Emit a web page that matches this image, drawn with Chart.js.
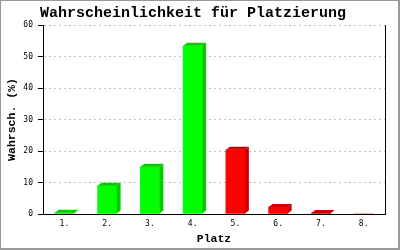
<!DOCTYPE html>
<html>
<head>
<meta charset="utf-8">
<script src="https://cdn.jsdelivr.net/npm/chart.js@4/dist/chart.umd.min.js"></script>
<style>
  html, body { margin: 0; padding: 0; background: #fff; }
  canvas { display: block; }
</style>
</head>
<body>
<canvas id="c" width="400" height="250"></canvas>
<script>
// ---- data ----
const TITLE = 'Wahrscheinlichkeit für Platzierung';
const X_TITLE = 'Platz';
const Y_TITLE = 'Wahrsch. (%)';
const categories = ['1.', '2.', '3.', '4.', '5.', '6.', '7.', '8.'];
const probabilities = [0.4, 9.0, 15.0, 53.4, 20.4, 2.2, 0.3, 0];
const yTicks = [0, 10, 20, 30, 40, 50, 60];

// ---- styles ----
const GREEN_COUNT = 4;
const FRONT = ['#00ff00', '#ff0000'];
const DARK = ['#00cc00', '#cc0000'];
const DX = 4, DY = 3;
const colorIdx = i => (i < GREEN_COUNT ? 0 : 1);

const bar3d = {
  id: 'bar3d',
  beforeDraw(chart) {
    const ctx = chart.ctx;
    ctx.save();
    ctx.fillStyle = '#fff';
    ctx.fillRect(0, 0, chart.width, chart.height);
    ctx.restore();
  },
  afterDatasetsDraw(chart) {
    const ctx = chart.ctx;
    const meta = chart.getDatasetMeta(0);
    const ds = chart.data.datasets[0];
    ctx.save();
    meta.data.forEach((el, i) => {
      if (!ds.data[i]) return;
      const p = el.getProps(['x', 'y', 'base', 'width'], true);
      const x0 = p.x - p.width / 2, x1 = p.x + p.width / 2;
      ctx.fillStyle = DARK[colorIdx(i)];
      ctx.beginPath();
      ctx.moveTo(x0, p.y); ctx.lineTo(x0 + DX, p.y - DY);
      ctx.lineTo(x1 + DX, p.y - DY); ctx.lineTo(x1, p.y);
      ctx.closePath(); ctx.fill();
      ctx.beginPath();
      ctx.moveTo(x1, p.y); ctx.lineTo(x1 + DX, p.y - DY);
      ctx.lineTo(x1 + DX, p.base - DY); ctx.lineTo(x1, p.base);
      ctx.closePath(); ctx.fill();
    });
    ctx.restore();
  },
  afterDraw(chart) {
    const ctx = chart.ctx;
    const a = chart.chartArea;
    ctx.save();
    ctx.strokeStyle = '#000';
    ctx.lineWidth = 1;
    ctx.beginPath();
    const xr = Math.round(a.right) + 0.5;
    ctx.moveTo(xr, a.top); ctx.lineTo(xr, a.bottom + 0.5);
    ctx.stroke();
    // outer frame
    ctx.fillStyle = '#999';
    ctx.fillRect(0, 0, 400, 1);
    ctx.fillRect(0, 0, 1, 250);
    ctx.fillRect(398, 0, 2, 250);
    ctx.fillRect(0, 248, 400, 2);
    ctx.restore();
  }
};

const tickFont = { family: 'DejaVu Sans Mono', size: 8 };
const titleFont = { family: 'Liberation Mono', size: 11.5, weight: 'bold' };

new Chart(document.getElementById('c'), {
  type: 'bar',
  data: {
    labels: categories,
    datasets: [{
      data: probabilities,
      backgroundColor: c => FRONT[colorIdx(c.dataIndex)],
      borderWidth: 0,
      barThickness: 19
    }]
  },
  options: {
    responsive: false,
    animation: false,
    devicePixelRatio: 1,
    layout: { padding: { left: 1, right: 15, top: 1, bottom: 2 } },
    plugins: {
      legend: { display: false },
      tooltip: { enabled: false },
      title: {
        display: true,
        text: TITLE,
        color: '#000',
        font: { family: 'Liberation Mono', size: 15, weight: 'bold' },
        padding: { top: 3, bottom: 3 }
      }
    },
    scales: {
      x: {
        offset: true,
        grid: { display: false, drawTicks: false },
        border: { display: true, color: '#000', width: 1 },
        ticks: { font: tickFont, color: '#000', padding: 5, maxRotation: 0, autoSkip: false },
        title: { display: true, text: X_TITLE, color: '#000', font: titleFont, padding: { top: 2, bottom: 2 } },
        afterFit(s) { s.height = 34; }
      },
      y: {
        min: yTicks[0],
        max: yTicks[yTicks.length - 1],
        afterBuildTicks(s) { s.ticks = yTicks.map(v => ({ value: v })); },
        ticks: { font: tickFont, color: '#000', padding: 5 },
        grid: { color: '#c0c0c0', tickColor: '#000', tickLength: 5, tickBorderDash: [], lineWidth: 1 },
        border: { display: true, color: '#000', width: 1, dash: [2, 3] },
        title: { display: true, text: Y_TITLE, color: '#000', font: titleFont, padding: { top: 4, bottom: 0 } },
        afterFit(s) { s.width = 42; }
      }
    }
  },
  plugins: [bar3d]
});
</script>
</body>
</html>
